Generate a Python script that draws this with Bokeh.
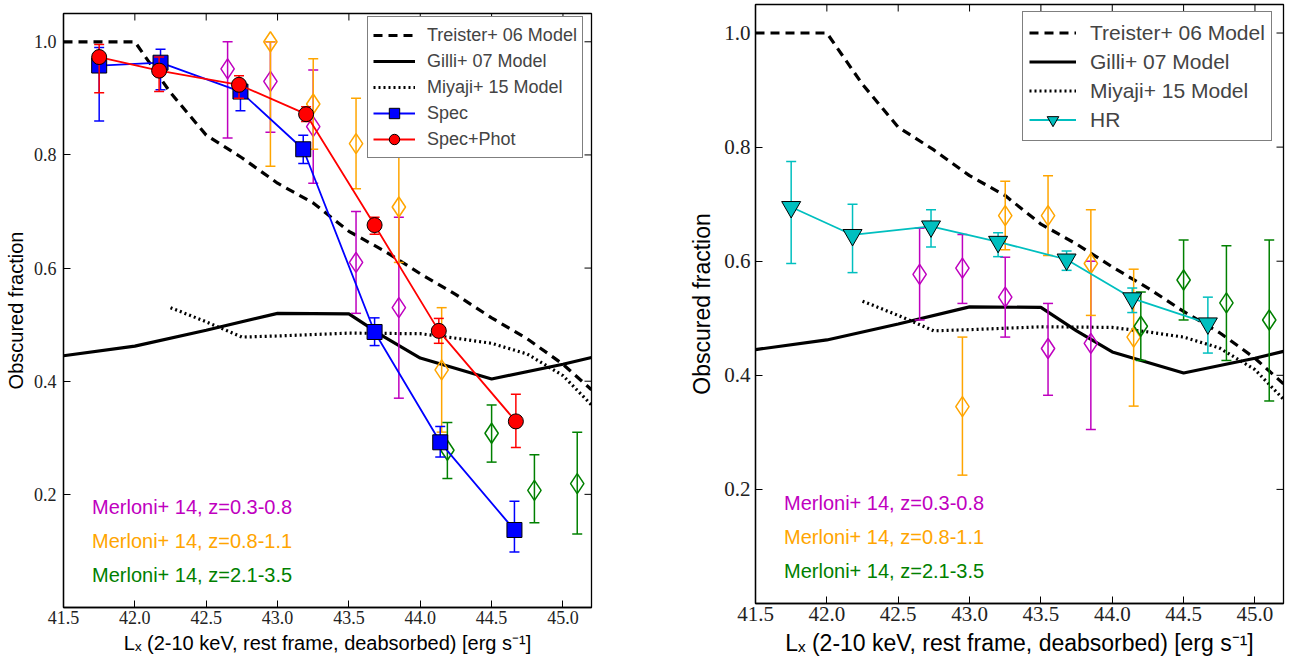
import math
from bokeh.plotting import figure
from bokeh.layouts import row, column
from bokeh.models import (FixedTicker, NumeralTickFormatter, Range1d, Legend, LegendItem)
from bokeh.embed import file_html
from bokeh.resources import INLINE
from bokeh.core.properties import value

# ---------------- data ----------------
X_MIN, X_MAX = 41.5, 45.2
Y_MIN, Y_MAX = 0.0, 1.05
x_ticks = [41.5, 42.0, 42.5, 43.0, 43.5, 44.0, 44.5, 45.0]
y_ticks = [0.2, 0.4, 0.6, 0.8, 1.0]

treister_x = [41.5, 42.0, 42.25, 42.5, 42.75, 43.0, 43.25, 43.5, 43.75, 44.0, 44.25, 44.5, 44.75, 45.0, 45.2]
treister_y = [1.0, 1.0, 0.91, 0.835, 0.795, 0.75, 0.715, 0.665, 0.63, 0.59, 0.553, 0.512, 0.475, 0.43, 0.385]

gilli_x = [41.5, 42.0, 42.5, 43.0, 43.5, 43.75, 44.0, 44.5, 45.0, 45.2]
gilli_y = [0.445, 0.462, 0.49, 0.52, 0.519, 0.478, 0.441, 0.404, 0.43, 0.442]

miyaji_x = [42.25, 42.5, 42.75, 43.0, 43.5, 44.0, 44.25, 44.5, 44.75, 45.0, 45.2]
miyaji_y = [0.53, 0.505, 0.478, 0.48, 0.485, 0.484, 0.476, 0.467, 0.448, 0.41, 0.358]

# left panel: spectroscopic
spec_x = [41.75, 42.18, 42.74, 43.18, 43.68, 44.14, 44.66]
spec_y = [0.958, 0.963, 0.912, 0.81, 0.487, 0.292, 0.137]
spec_lo = [0.86, 0.915, 0.878, 0.785, 0.463, 0.266, 0.098]
spec_hi = [0.99, 0.987, 0.93, 0.835, 0.512, 0.32, 0.188]

# left panel: spec+phot
sp_x = [41.75, 42.17, 42.73, 43.2, 43.68, 44.13, 44.67]
sp_y = [0.973, 0.949, 0.924, 0.872, 0.676, 0.489, 0.329]
sp_lo = [0.91, 0.912, 0.90, 0.859, 0.66, 0.467, 0.283]
sp_hi = [0.995, 0.973, 0.94, 0.885, 0.69, 0.511, 0.377]

# left panel Merloni+14
ml1_x = [42.65, 42.95, 43.25, 43.55, 43.85]
ml1_y = [0.952, 0.93, 0.85, 0.61, 0.53]
ml1_lo = [0.83, 0.84, 0.75, 0.52, 0.37]
ml1_hi = [1.0, 1.0, 0.95, 0.70, 0.69]

ml2_x = [42.95, 43.25, 43.55, 43.85, 44.15]
ml2_y = [1.0, 0.89, 0.82, 0.708, 0.42]
ml2_lo = [0.78, 0.81, 0.74, 0.61, 0.31]
ml2_hi = [1.0, 0.97, 0.90, 0.82, 0.53]

ml3_x = [44.19, 44.5, 44.8, 45.1]
ml3_y = [0.278, 0.308, 0.207, 0.219]
ml3_lo = [0.228, 0.257, 0.15, 0.13]
ml3_hi = [0.327, 0.358, 0.27, 0.31]

# right panel: hardness ratio
hr_x = [41.75, 42.18, 42.73, 43.2, 43.68, 44.14, 44.67]
hr_y = [0.695, 0.646, 0.661, 0.634, 0.603, 0.535, 0.491]
hr_lo = [0.596, 0.58, 0.625, 0.608, 0.584, 0.51, 0.439]
hr_hi = [0.775, 0.70, 0.69, 0.65, 0.618, 0.553, 0.537]

# right panel Merloni+14
mr1_x = [42.65, 42.95, 43.25, 43.55, 43.85]
mr1_y = [0.577, 0.588, 0.537, 0.447, 0.456]
mr1_lo = [0.497, 0.526, 0.467, 0.365, 0.305]
mr1_hi = [0.658, 0.647, 0.607, 0.526, 0.60]

mr2_x = [42.95, 43.25, 43.55, 43.85, 44.15]
mr2_y = [0.345, 0.68, 0.68, 0.596, 0.467]
mr2_lo = [0.225, 0.62, 0.61, 0.505, 0.346]
mr2_hi = [0.467, 0.74, 0.75, 0.69, 0.586]

mr3_x = [44.2, 44.5, 44.8, 45.1]
mr3_y = [0.486, 0.567, 0.527, 0.497]
mr3_lo = [0.426, 0.497, 0.426, 0.355]
mr3_hi = [0.546, 0.637, 0.627, 0.637]

merloni_labels = ["Merloni+ 14, z=0.3-0.8", "Merloni+ 14, z=0.8-1.1", "Merloni+ 14, z=2.1-3.5"]
merloni_text_y = [0.177, 0.117, 0.057]
merloni_text_x = 41.70

MAG = "#bf00bf"
ORA = "#ffa500"
GRN = "#008000"
CYA = "#00bfbf"

SANS = "Liberation Sans"
SERIF = "Liberation Serif"

XLABEL = "L\u2093 (2-10 keV, rest frame, deabsorbed) [erg s\u207b\u00b9]"


def make_fig(frame_h, b_left, b_right, b_top, tick_fs, label_fs, xl_so, xal_so, yl_so, yal_so):
    p = figure(frame_width=528, frame_height=frame_h, x_range=Range1d(X_MIN, X_MAX),
               y_range=Range1d(Y_MIN, Y_MAX), output_backend="svg", toolbar_location=None,
               min_border_left=b_left, min_border_right=b_right,
               min_border_top=b_top, min_border_bottom=0, title=None)
    p.xgrid.visible = False
    p.ygrid.visible = False
    p.outline_line_color = "black"
    p.outline_line_width = 1.3
    p.outline_line_alpha = 1.0
    p.background_fill_color = "white"
    p.border_fill_color = "white"
    for ax in p.xaxis:
        ax.ticker = FixedTicker(ticks=x_ticks)
        ax.formatter = NumeralTickFormatter(format="0.0")
        ax.axis_label = XLABEL
        ax.major_label_standoff = xl_so
        ax.axis_label_standoff = xal_so
    for ax in p.yaxis:
        ax.ticker = FixedTicker(ticks=y_ticks)
        ax.formatter = NumeralTickFormatter(format="0.0")
        ax.axis_label = "Obscured fraction"
        ax.major_label_standoff = yl_so
        ax.axis_label_standoff = yal_so
    for ax in p.xaxis + p.yaxis:
        ax.major_tick_in = 7
        ax.major_tick_out = 0
        ax.minor_tick_in = 0
        ax.minor_tick_out = 0
        ax.major_tick_line_color = "black"
        ax.axis_line_color = "black"
        ax.axis_line_width = 1.3
        ax.major_label_text_font = SERIF
        ax.major_label_text_font_size = tick_fs
        ax.major_label_text_color = "#222222"
        ax.axis_label_text_font = SANS
        ax.axis_label_text_font_size = label_fs
        ax.axis_label_text_font_style = "normal"
        ax.axis_label_text_color = "black"
    # inward ticks on the top and right frame edges
    p.ray(x=x_ticks, y=[Y_MAX] * len(x_ticks), length=7, length_units="screen",
          angle=-math.pi / 2, line_color="black", line_width=1)
    p.ray(x=[X_MAX] * len(y_ticks), y=y_ticks, length=7, length_units="screen",
          angle=math.pi, line_color="black", line_width=1)
    return p


def models(p):
    r1 = p.line(treister_x, treister_y, line_color="black", line_width=3.2, line_dash="9 6")
    r2 = p.line(gilli_x, gilli_y, line_color="black", line_width=3.2)
    r3 = p.line(miyaji_x, miyaji_y, line_color="black", line_width=3.2, line_dash="2 3")
    return r1, r2, r3


def errorbars(p, x, lo, hi, color, lw=1.5):
    p.segment(x0=x, y0=lo, x1=x, y1=hi, line_color=color, line_width=lw)
    p.scatter(x, lo, marker="dash", size=10, line_color=color, line_width=lw)
    p.scatter(x, hi, marker="dash", size=10, line_color=color, line_width=lw)


def merloni(p, xs, ys, los, his, color):
    errorbars(p, xs, los, his, color)
    p.scatter(xs, ys, marker="diamond", size=20, fill_color=None, line_color=color, line_width=1.5)


def merloni_text(p, size):
    for lab, ty, col in zip(merloni_labels, merloni_text_y, [MAG, ORA, GRN]):
        p.text(x=[merloni_text_x], y=[ty], text=[lab], text_color=col, text_font=value(SANS),
               text_font_size=size, text_baseline="middle", text_align="left")


# ---------------- left panel ----------------
left = make_fig(594, 63, 60, 13, "18px", "20px", 3, 5, 7, 4)
t1, g1, m1 = models(left)
merloni(left, ml1_x, ml1_y, ml1_lo, ml1_hi, MAG)
merloni(left, ml2_x, ml2_y, ml2_lo, ml2_hi, ORA)
merloni(left, ml3_x, ml3_y, ml3_lo, ml3_hi, GRN)

errorbars(left, spec_x, spec_lo, spec_hi, "blue")
sl = left.line(spec_x, spec_y, line_color="blue", line_width=1.8)
ss = left.scatter(spec_x, spec_y, marker="square", size=15, fill_color="blue", line_color="black", line_width=1)

errorbars(left, sp_x, sp_lo, sp_hi, "red")
rl = left.line(sp_x, sp_y, line_color="red", line_width=1.8)
rs = left.scatter(sp_x, sp_y, marker="circle", size=15, fill_color="red", line_color="black", line_width=1)

merloni_text(left, "20px")

leg1 = Legend(items=[
    LegendItem(label="Treister+ 06 Model", renderers=[t1]),
    LegendItem(label="Gilli+ 07 Model", renderers=[g1]),
    LegendItem(label="Miyaji+ 15 Model", renderers=[m1]),
    LegendItem(label="Spec", renderers=[sl, ss]),
    LegendItem(label="Spec+Phot", renderers=[rl, rs]),
], location=(304, 449), padding=5, spacing=0, label_height=20, glyph_height=26,
    glyph_width=42, label_standoff=12, label_text_font=SANS, label_text_font_size="18px",
    border_line_color="black", border_line_width=1, background_fill_alpha=1.0, margin=0)
left.add_layout(leg1)

# ---------------- right panel ----------------
right = make_fig(599, 104, 5, 4, "21px", "23px", 3, 6, 5, 6)
t2, g2, m2 = models(right)
merloni(right, mr1_x, mr1_y, mr1_lo, mr1_hi, MAG)
merloni(right, mr2_x, mr2_y, mr2_lo, mr2_hi, ORA)
merloni(right, mr3_x, mr3_y, mr3_lo, mr3_hi, GRN)

errorbars(right, hr_x, hr_lo, hr_hi, CYA)
hl = right.line(hr_x, hr_y, line_color=CYA, line_width=1.8)
hs = right.scatter(hr_x, hr_y, marker="inverted_triangle", size=19, fill_color=CYA, line_color="black", line_width=1)

merloni_text(right, "20px")

leg2 = Legend(items=[
    LegendItem(label="Treister+ 06 Model", renderers=[t2]),
    LegendItem(label="Gilli+ 07 Model", renderers=[g2]),
    LegendItem(label="Miyaji+ 15 Model", renderers=[m2]),
    LegendItem(label="HR", renderers=[hl, hs]),
], location=(267, 462), padding=6, spacing=0, label_height=22, glyph_height=29,
    glyph_width=47, label_standoff=14, label_text_font=SANS, label_text_font_size="21px",
    border_line_color="black", border_line_width=1, background_fill_alpha=1.0, margin=0)
right.add_layout(leg2)

layout = row(column(left), column(right))
open("out.html", "w").write(file_html(layout, INLINE))
